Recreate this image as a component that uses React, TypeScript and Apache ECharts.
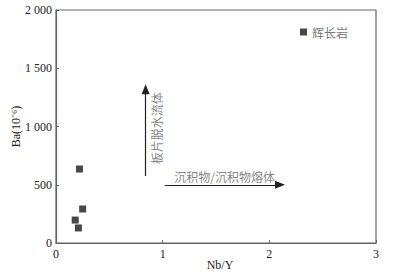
import React, { useEffect, useRef } from "react";
import * as echarts from "echarts";

const seriesName = "辉长岩";
const nbY = [0.22, 0.25, 0.18, 0.21];
const ba = [635, 292, 197, 129];
const xTicks = [0, 1, 2, 3];
const yTicks = [0, 500, 1000, 1500, 2000];
const arrowUp = [[0.84, 575], [0.84, 1320]];
const arrowRight = [[1.02, 500], [2.1, 500]];
const labelUp = { text: "板片脱水流体", pos: [0.94, 985] };
const labelRight = { text: "沉积物/沉积物熔体", pos: [1.58, 570] };

const fmt = (v: number) => {
  const s = String(v);
  return s.length > 3 ? s.slice(0, s.length - 3) + " " + s.slice(-3) : s;
};

export default function App() {
  const ref = useRef<HTMLDivElement>(null);
  useEffect(() => {
    const chart = echarts.init(ref.current!, null, { renderer: "svg" });
    const serif = "'Liberation Serif', 'Times New Roman', serif";
    const axisColor = "#666";
    chart.setOption({
      animation: false,
      backgroundColor: "#fff",
      grid: {
        left: 56,
        top: 10,
        width: 320,
        height: 233,
        containLabel: false,
        outerBoundsMode: "none",
        show: true,
        borderColor: axisColor,
        borderWidth: 1.2,
      },
      legend: {
        left: 295,
        top: 21,
        icon: "rect",
        itemWidth: 7,
        itemHeight: 7,
        itemGap: 6,
        textStyle: { color: "#777", fontSize: 12, fontFamily: "'Noto Sans CJK SC'" },
        data: [seriesName],
      },
      xAxis: {
        type: "value",
        min: 0,
        max: 3,
        interval: 1,
        name: "Nb/Y",
        nameLocation: "middle",
        nameGap: 16,
        nameMoveOverlap: false,
        nameTextStyle: { fontFamily: serif, fontSize: 12, color: "#222", padding: [0, 0, 0, 8] },
        axisLine: { onZero: false, lineStyle: { color: axisColor, width: 1.2 } },
        axisTick: { inside: true, length: 3, lineStyle: { color: axisColor } },
        axisLabel: { fontFamily: serif, fontSize: 12, color: "#222", margin: 5, formatter: (v: number) => String(v) },
        splitLine: { show: false },
      },
      yAxis: {
        type: "value",
        min: 0,
        max: 2000,
        interval: 500,
        name: "Ba(10⁻⁶)",
        nameLocation: "middle",
        nameGap: 34,
        nameMoveOverlap: false,
        nameTextStyle: { fontFamily: serif, fontSize: 12, color: "#222" },
        axisLine: { show: true, lineStyle: { color: axisColor, width: 1.2 } },
        axisTick: { show: true, inside: true, length: 3, lineStyle: { color: axisColor } },
        axisLabel: { fontFamily: serif, fontSize: 12, color: "#222", margin: 4, formatter: (v: number) => fmt(v) },
        splitLine: { show: false },
      },
      series: [
        {
          name: seriesName,
          type: "scatter",
          symbol: "rect",
          symbolSize: 7,
          itemStyle: { color: "#1a1a1a" },
          data: nbY.map((x, i) => [x, ba[i]]),
          markLine: {
            silent: true,
            symbol: ["none", "triangle"],
            symbolSize: [8, 10],
            lineStyle: { color: "#222", width: 1.2, type: "solid" },
            label: { show: false },
            data: [
              [{ coord: arrowUp[0], symbol: "none" }, { coord: arrowUp[1] }],
              [{ coord: arrowRight[0], symbol: "none" }, { coord: arrowRight[1] }],
            ],
          },
        },
        {
          name: "labels",
          type: "scatter",
          symbolSize: 0,
          silent: true,
          data: [
            { value: labelUp.pos, label: { show: true, formatter: labelUp.text, rotate: 90, position: "inside" } },
            { value: labelRight.pos, label: { show: true, formatter: labelRight.text, position: "inside" } },
          ],
          label: { color: "#666", fontSize: 12, fontFamily: "'Noto Sans CJK SC'" },
        },
      ],
    });
    return () => chart.dispose();
  }, []);
  return <div ref={ref} style={{ position: "fixed", left: 0, top: 0, width: 393, height: 272 }} />;
}
